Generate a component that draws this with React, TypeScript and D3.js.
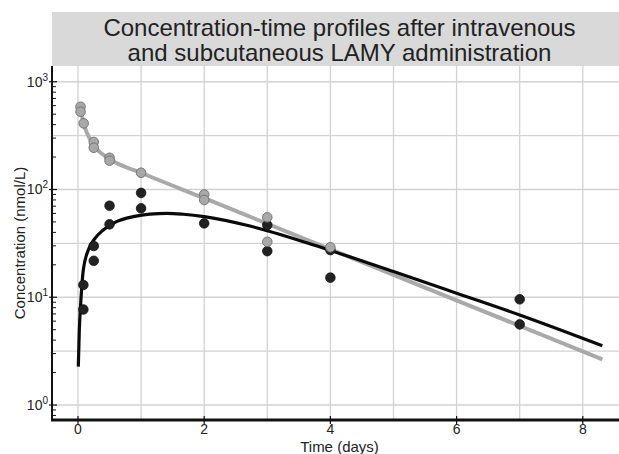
import React from "react";
import * as d3 from "d3";

// ---- Data ----
const ivTime = [0.04, 0.04, 0.09, 0.25, 0.25, 0.5, 0.5, 1, 2, 2, 3, 3, 4];
const ivConc = [586, 527, 411, 276, 244, 197, 185, 143, 90, 80, 55.2, 32.7, 29.1];

const scTime = [0.085, 0.085, 0.25, 0.25, 0.5, 0.5, 1, 1, 2, 3, 3, 4, 4, 7, 7];
const scConc = [13, 7.7, 29.9, 21.8, 70.7, 47.5, 93, 66.9, 48.5, 46.8, 26.8, 27.4, 15.2, 9.57, 5.6];

const ivFitTime = [0.04, 0.09, 0.25, 0.5, 1, 2, 8.31];
const ivFitConc = [555, 411, 259, 192, 143, 83, 2.65];

const scFitTime = [0.005, 0.021, 0.043, 0.084, 0.163, 0.27, 0.4, 0.61, 0.877, 1.14, 1.41, 1.67, 2.0, 2.726, 4, 5, 6, 7, 8.31];
const scFitConc = [2.27, 4.97, 8.8, 17.9, 27.4, 35.2, 42.1, 50.3, 56, 59.2, 60.1, 58.9, 56, 45.8, 27.2, 17.3, 10.9, 6.85, 3.55];

const xTicks = [0, 2, 4, 6, 8];
const xGrid = [0, 1, 2, 3, 4, 5, 6, 7, 8];
const yMajorExp = [0, 1, 2, 3];
const yGridExp = [0, 0.5, 1, 1.5, 2, 2.5, 3];

const titleLines = ["Concentration-time profiles after intravenous", "and subcutaneous LAMY administration"];
const xLabel = "Time (days)";
const yLabel = "Concentration (nmol/L)";

export default function App() {
  const W = 619, H = 454;
  const left = 52, right = 619, top = 66, bottom = 420;
  const x = d3.scaleLinear().domain([-0.412, 8.574]).range([left, right]);
  const y = d3.scaleLog().domain([Math.pow(10, -0.139), Math.pow(10, 3.146)]).range([bottom, top]);

  const minorVals: number[] = [];
  for (let e = -1; e <= 3; e++) for (let m = 2; m <= 9; m++) {
    const v = m * Math.pow(10, e);
    if (y(v) <= bottom && y(v) >= top) minorVals.push(v);
  }

  const line = d3.line<[number, number]>().x(d => x(d[0])).y(d => y(d[1])).curve(d3.curveMonotoneX);
  const ivPath = line(ivFitTime.map((t, i) => [t, ivFitConc[i]]))!;
  const scPath = line(scFitTime.map((t, i) => [t, scFitConc[i]]))!;
  const font = "'Liberation Sans', Arial, sans-serif";
  const midX = (left + right) / 2;

  return (
    <svg width={W} height={H} style={{ position: "absolute", left: 0, top: 0, background: "#fff" }} fontFamily={font}>
      <rect x={0} y={0} width={W} height={H} fill="#fff" />
      {/* grid */}
      {xGrid.map(t => (
        <line key={"vg" + t} x1={x(t)} x2={x(t)} y1={top} y2={bottom} stroke="#d2d2d2" strokeWidth={1.3} />
      ))}
      {yGridExp.map(e => (
        <line key={"hg" + e} x1={left} x2={right} y1={y(Math.pow(10, e))} y2={y(Math.pow(10, e))} stroke="#d2d2d2" strokeWidth={1.3} />
      ))}
      {/* lines */}
      <path d={ivPath} fill="none" stroke="#a9a9a9" strokeWidth={4} strokeLinejoin="round" />
      <path d={scPath} fill="none" stroke="#0a0a0a" strokeWidth={3.2} strokeLinejoin="round" />
      {/* points */}
      {scTime.map((t, i) => (
        <circle key={"sc" + i} cx={x(t)} cy={y(scConc[i])} r={4.8} fill="#222" stroke="#111" strokeWidth={0.8} />
      ))}
      {ivTime.map((t, i) => (
        <circle key={"iv" + i} cx={x(t)} cy={y(ivConc[i])} r={4.8} fill="#a8a8a8" stroke="#6e6e6e" strokeWidth={0.9} />
      ))}
      {/* axes */}
      <line x1={left} x2={left} y1={top} y2={bottom + 1} stroke="#111" strokeWidth={2} />
      <line x1={left - 1} x2={right} y1={bottom} y2={bottom} stroke="#111" strokeWidth={3} />
      {yMajorExp.map(e => (
        <g key={"ym" + e}>
          <line x1={left - 3} x2={left + 5} y1={y(Math.pow(10, e))} y2={y(Math.pow(10, e))} stroke="#111" strokeWidth={1.2} />
          <text x={left - 4} y={y(Math.pow(10, e)) + 5} textAnchor="end" fontSize={14} fill="#222">
            <tspan>10</tspan>
            <tspan dy={-6} fontSize={10}>{e}</tspan>
          </text>
        </g>
      ))}
      {minorVals.map((v, i) => (
        <line key={"ymn" + i} x1={left} x2={left + 4} y1={y(v)} y2={y(v)} stroke="#111" strokeWidth={1} />
      ))}
      {xTicks.map(t => (
        <g key={"xt" + t}>
          <line x1={x(t)} x2={x(t)} y1={bottom - 4} y2={bottom + 4} stroke="#111" strokeWidth={1.2} />
          <text x={x(t)} y={bottom + 14} textAnchor="middle" fontSize={14} fill="#222">{t}</text>
        </g>
      ))}
      <text x={midX + 4} y={bottom + 32} textAnchor="middle" fontSize={15} fill="#222">{xLabel}</text>
      <text transform={`translate(25,${(top + bottom) / 2}) rotate(-90)`} textAnchor="middle" fontSize={15} fill="#222">{yLabel}</text>
      {/* title box */}
      <rect x={left} y={12} width={right - left} height={top - 12} fill="#d9d9d9" />
      {titleLines.map((s, i) => (
        <text key={"t" + i} x={midX + 4} y={36 + i * 25} textAnchor="middle" fontSize={24} fill="#222">{s}</text>
      ))}
    </svg>
  );
}
